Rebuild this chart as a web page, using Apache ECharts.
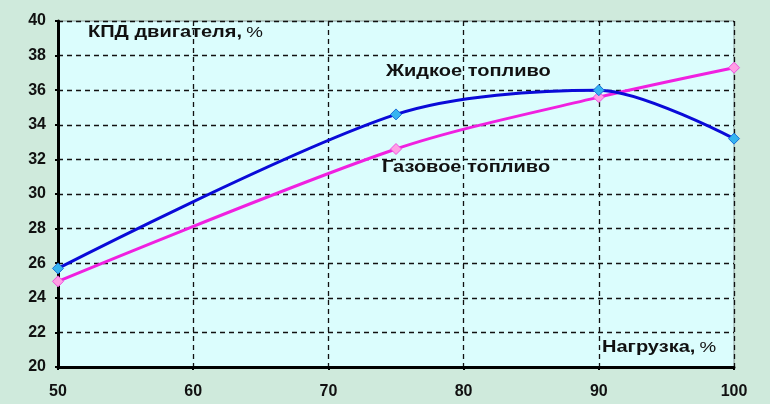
<!DOCTYPE html>
<html>
<head>
<meta charset="utf-8">
<script src="https://cdn.jsdelivr.net/npm/echarts@6/dist/echarts.min.js"></script>
<style>
  html, body { margin: 0; padding: 0; background: #cfeadc; }
  #chart { width: 770px; height: 404px; }
</style>
</head>
<body>
<div id="chart"></div>
<script>
// нагрузка, %
const loads = [50, 75, 90, 100];
// КПД, %
const liquidFuel = [25.7, 34.6, 36.0, 33.2];
const gasFuel = [24.95, 32.6, 35.6, 37.3];

const xTicks = { min: 50, max: 100, interval: 10 };
const yTicks = { min: 20, max: 40, interval: 2 };

const toPairs = (xs, ys) => xs.map((x, i) => [x, ys[i]]);

const labelFont = { fontFamily: 'Liberation Sans', fontWeight: 'bold', fontSize: 16, color: '#111' };
const dashed = { color: '#111', type: [5, 4], width: 1.3 };
const boldText = 'bold 16px Liberation Sans';
const normText = '15px Liberation Sans';

// подписи внутри графика (растянуты по горизонтали, как в оригинале)
const note = (x, y, rich) => ({
    type: 'text', x: x, y: y, scaleX: 1.25,
    style: {
        text: rich,
        rich: {
            b: { font: boldText, fill: '#111' },
            n: { font: normText, fill: '#111' }
        }
    }
});

let myChart = echarts.init(document.getElementById('chart'));
let option = {
    backgroundColor: '#cfeadc',
    animation: false,
    grid: {
        left: 58, right: 36, top: 21, bottom: 37,
        show: true,
        backgroundColor: '#dbfdfd',
        borderColor: '#8a9a9a',
        borderWidth: 1
    },
    xAxis: {
        type: 'value',
        min: xTicks.min, max: xTicks.max, interval: xTicks.interval,
        axisLine: { lineStyle: { color: '#000', width: 3 } },
        axisTick: { show: true, length: 3, lineStyle: { color: '#000', width: 2 } },
        axisLabel: Object.assign({ margin: 17 }, labelFont),
        splitLine: { show: true, lineStyle: dashed }
    },
    yAxis: {
        type: 'value',
        min: yTicks.min, max: yTicks.max, interval: yTicks.interval,
        axisLine: { show: true, lineStyle: { color: '#000', width: 3 } },
        axisTick: { show: true, length: 3, lineStyle: { color: '#000', width: 2 } },
        axisLabel: Object.assign({ margin: 12 }, labelFont),
        splitLine: { show: true, lineStyle: dashed }
    },
    series: [
        {
            name: 'Жидкое топливо',
            type: 'line',
            smooth: 0.3,
            data: toPairs(loads, liquidFuel),
            lineStyle: { color: '#0a0ad8', width: 3 },
            symbol: 'diamond',
            symbolSize: 11,
            itemStyle: { color: '#36b4f0', borderColor: '#1a6fd8', borderWidth: 1 },
            z: 3
        },
        {
            name: 'Газовое топливо',
            type: 'line',
            smooth: 0.3,
            data: toPairs(loads, gasFuel),
            lineStyle: { color: '#f020e0', width: 3 },
            symbol: 'diamond',
            symbolSize: 11,
            itemStyle: { color: '#ff9ee4', borderColor: '#f050e0', borderWidth: 1 },
            z: 2
        }
    ],
    graphic: [
        note(88, 25, '{b|КПД двигателя,} {n|%}'),
        note(386, 64, '{b|Жидкое топливо}'),
        note(382, 160, '{b|Газовое топливо}'),
        note(602, 340, '{b|Нагрузка,} {n|%}')
    ]
};
option && myChart.setOption(option);
</script>
</body>
</html>
